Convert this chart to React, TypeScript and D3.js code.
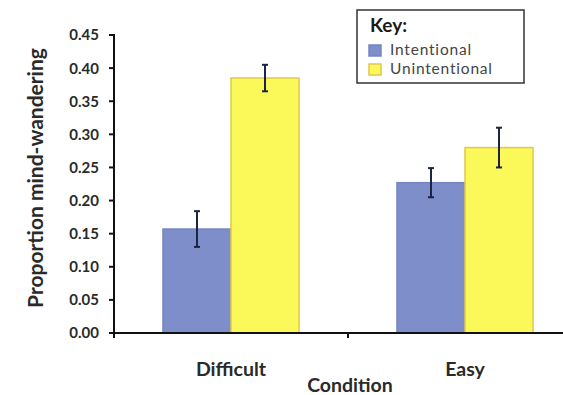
import React from "react";
import * as d3 from "d3";

const categories = ["Difficult", "Easy"];
const series = ["Intentional", "Unintentional"];
const intentional = [0.157, 0.227];
const unintentional = [0.385, 0.28];
const intentionalErr = [0.027, 0.022];
const unintentionalErr = [0.02, 0.03];
const yTicks = [0, 0.05, 0.1, 0.15, 0.2, 0.25, 0.3, 0.35, 0.4, 0.45];

const W = 563;
const H = 395;
const FONT = "Lato, 'Open Sans', sans-serif";
const colors = ["#7d8ecb", "#fbf85a"];
const strokes = ["#7585c4", "#e0c84a"];

export default function App() {
  const y = d3.scaleLinear().domain([0, 0.45]).range([333, 35]);
  const x0 = d3.scaleBand().domain(categories).range([114, 582]).paddingInner(0).paddingOuter(0);
  const x1 = d3.scaleBand().domain(series).range([0, x0.bandwidth()]).paddingInner(0).paddingOuter(0.72);
  const vals = [intentional, unintentional];
  const errs = [intentionalErr, unintentionalErr];

  return (
    <svg width={W} height={H} style={{ position: "absolute", left: 0, top: 0, background: "#fff" }}>
      {/* bars */}
      {categories.map((c, ci) =>
        series.map((s, si) => {
          const bx = (x0(c) as number) + (x1(s) as number);
          const v = vals[si][ci];
          return (
            <rect
              key={c + s}
              x={bx}
              y={y(v)}
              width={x1.bandwidth()}
              height={y(0) - y(v)}
              fill={colors[si]}
              stroke={strokes[si]}
              strokeWidth={1.5}
            />
          );
        })
      )}
      {/* error bars */}
      {categories.map((c, ci) =>
        series.map((s, si) => {
          const cx = (x0(c) as number) + (x1(s) as number) + x1.bandwidth() / 2;
          const v = vals[si][ci];
          const e = errs[si][ci];
          return (
            <g key={"e" + c + s} stroke="#1b2440" strokeWidth={2}>
              <line x1={cx} x2={cx} y1={y(v + e)} y2={y(v - e)} />
              <line x1={cx - 3} x2={cx + 3} y1={y(v + e)} y2={y(v + e)} />
              <line x1={cx - 3} x2={cx + 3} y1={y(v - e)} y2={y(v - e)} />
            </g>
          );
        })
      )}
      {/* y axis */}
      <line x1={114} x2={114} y1={y(0.45)} y2={y(0) + 1} stroke="#111" strokeWidth={2} />
      {yTicks.map((t) => (
        <g key={t}>
          <line x1={109} x2={115} y1={y(t)} y2={y(t)} stroke="#111" strokeWidth={2} />
          <text
            x={99}
            y={y(t)}
            dy="0.36em"
            textAnchor="end"
            fontFamily={FONT}
            fontWeight="bold"
            fontSize={15}
            fill="#2a2a2a"
          >
            {t.toFixed(2)}
          </text>
        </g>
      ))}
      {/* x axis */}
      <line x1={113} x2={W} y1={y(0)} y2={y(0)} stroke="#111" strokeWidth={2} />
      <line x1={348} x2={348} y1={y(0)} y2={y(0) + 5} stroke="#111" strokeWidth={2} />
      <line x1={114} x2={114} y1={y(0)} y2={y(0) + 5} stroke="#111" strokeWidth={2} />
      {categories.map((c) => (
        <text
          key={c}
          x={(x0(c) as number) + x0.bandwidth() / 2}
          y={376}
          textAnchor="middle"
          fontFamily={FONT}
          fontWeight="bold"
          fontSize={19.5}
          fill="#2a2a2a"
        >
          {c}
        </text>
      ))}
      <text x={350} y={392} textAnchor="middle" fontFamily={FONT} fontWeight="bold" fontSize={19.5} fill="#2a2a2a">
        Condition
      </text>
      <text
        transform={`translate(43,${(y(0) + y(0.45)) / 2 - 6}) rotate(-90)`}
        textAnchor="middle"
        fontFamily={FONT}
        fontWeight="bold"
        fontSize={21}
        fill="#2a2a2a"
      >
        Proportion mind-wandering
      </text>
      {/* legend */}
      <rect x={357} y={10} width={167} height={73} fill="#fff" stroke="#333" strokeWidth={1.5} />
      <text x={370} y={32} fontFamily={FONT} fontWeight="bold" fontSize={19} fill="#1a1a1a">
        Key:
      </text>
      {series.map((s, i) => (
        <g key={s}>
          <rect x={369} y={45 + i * 19} width={12} height={11} fill={colors[i]} stroke={strokes[i]} strokeWidth={1.5} />
          <text x={390} y={55 + i * 19} fontFamily={FONT} fontSize={15.5} letterSpacing={0.8} fill="#444">
            {s}
          </text>
        </g>
      ))}
    </svg>
  );
}
